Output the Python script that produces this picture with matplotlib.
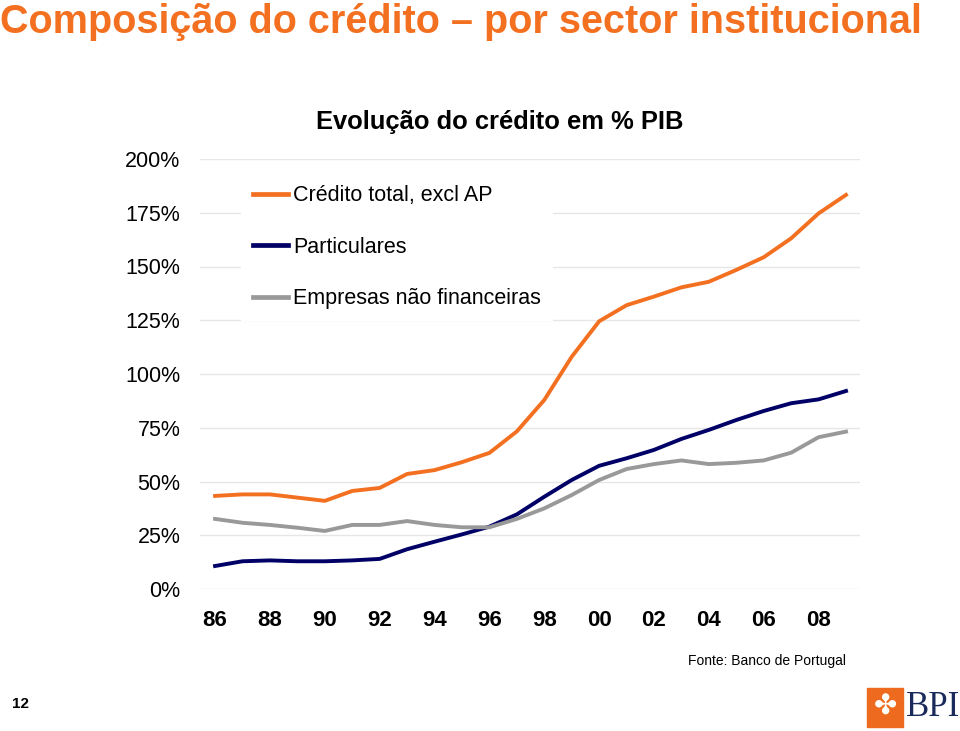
import matplotlib
matplotlib.use('Agg')
import matplotlib.pyplot as plt
from matplotlib.patches import Rectangle

plt.rcParams['font.family'] = ['Liberation Sans', 'DejaVu Sans']

# dados (% do PIB), 1986-2009
anos = list(range(1986, 2010))
credito_total = [43.3, 44.0, 44.0, 42.5, 41.0, 45.6, 47.0, 53.5, 55.3, 59.0, 63.3, 73.3,
                 87.9, 108.0, 124.5, 132.0, 136.0, 140.3, 142.9, 148.4, 154.3, 163.1, 174.7, 183.3]
particulares = [10.7, 12.9, 13.3, 12.9, 12.9, 13.3, 14.0, 18.5, 22.0, 25.4, 29.0, 34.7,
                42.9, 50.7, 57.3, 60.8, 64.7, 69.8, 74.0, 78.6, 82.8, 86.4, 88.2, 92.1]
empresas = [32.6, 30.8, 29.8, 28.5, 27.0, 29.8, 29.8, 31.6, 29.8, 28.7, 28.7, 32.6,
            37.5, 43.7, 50.7, 55.8, 58.1, 59.8, 58.1, 58.7, 59.8, 63.4, 70.6, 73.2]
series_nomes = ['Crédito total, excl AP', 'Particulares', 'Empresas não financeiras']
cores = ['#F37021', '#000066', '#999999']
yticks = [0, 25, 50, 75, 100, 125, 150, 175, 200]
xticks = list(range(1986, 2010, 2))
xlabels = ['%02d' % (a % 100) for a in xticks]

fig = plt.figure(figsize=(9.6, 7.31), dpi=100)
ax = fig.add_axes([200/960, 142/731, 660/960, 430/731])

for vals, nome, cor in zip([credito_total, particulares, empresas], series_nomes, cores):
    ax.plot(anos, vals, color=cor, lw=2.8, label=nome, solid_joinstyle='round')

ax.set_ylim(0, 200)
ax.set_xlim(1985.45, 2009.51)
ax.set_yticks(yticks)
ax.set_yticklabels(['%d%%' % v for v in yticks], fontsize=15.5)
ax.set_xticks(xticks)
ax.set_xticklabels(xlabels, fontsize=16, fontweight='bold')
ax.tick_params(axis='both', length=0)
ax.tick_params(axis='y', pad=14)
ax.tick_params(axis='x', pad=15)
ax.grid(axis='y', color='#E6E6E6', lw=1)
ax.set_axisbelow(True)
for s in ax.spines.values():
    s.set_visible(False)

leg = ax.legend(loc='upper left', bbox_to_anchor=(0.046, 0.992), fontsize=15.5,
                handlelength=1.63, handletextpad=0.23, labelspacing=1.42,
                frameon=True, fancybox=False, borderpad=0.55)
leg.get_frame().set_facecolor('white')
leg.get_frame().set_edgecolor('none')
leg.get_frame().set_alpha(1)
for h in leg.get_lines():
    h.set_linewidth(3.4)

fig.text(0.0, 1 - 22/731, 'Composição do crédito – por sector institucional',
         color='#F37021', fontsize=28.5, fontweight='bold', va='center', ha='left')
fig.text(500/960, 1 - 122/731, 'Evolução do crédito em % PIB',
         fontsize=18.4, fontweight='bold', va='center', ha='center')
fig.text(846/960, 1 - 661/731, 'Fonte: Banco de Portugal', fontsize=10,
         va='center', ha='right')
fig.text(12/960, 1 - 704/731, '12', fontsize=11, fontweight='bold', va='center')

# logotipo BPI
fig.patches.append(Rectangle((867/960, 1 - 727/731), 36/960, 39/731,
                             transform=fig.transFigure, color='#EE6A1E'))
fig.text(885/960, 1 - 707/731, '✤', color='white', fontsize=20,
         family=['DejaVu Sans'], ha='center', va='center')
fig.text(906/960, 1 - 707/731, 'BPI', color='#1A2A5A', fontsize=25,
         family=['Liberation Serif'], ha='left', va='center')

fig.savefig('out.png', dpi=100)
